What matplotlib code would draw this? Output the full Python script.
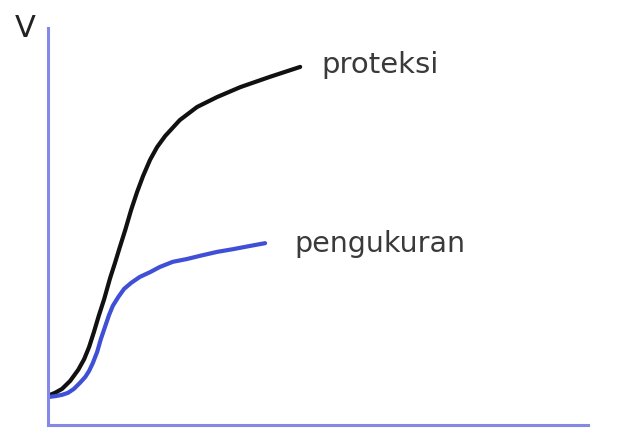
import matplotlib
matplotlib.use("Agg")
import matplotlib.pyplot as plt

# Curves in arbitrary units (x: 0-10, V: 0-10)
proteksi_x = [0.04, 0.13, 0.26, 0.41, 0.56, 0.67, 0.76, 0.85, 0.94, 1.04, 1.15, 1.24, 1.33,
              1.43, 1.54, 1.65, 1.76, 1.89, 2.02, 2.17, 2.44, 2.76, 3.13, 3.56, 4.11, 4.67]
proteksi_v = [0.76, 0.81, 0.91, 1.11, 1.39, 1.66, 1.96, 2.34, 2.75, 3.17, 3.70, 4.08, 4.48,
              4.91, 5.42, 5.87, 6.27, 6.68, 7.00, 7.28, 7.68, 8.01, 8.26, 8.51, 8.77, 9.02]

pengukuran_x = [0.04, 0.15, 0.26, 0.37, 0.48, 0.59, 0.69, 0.76, 0.83, 0.91, 0.98, 1.06, 1.13,
                1.20, 1.30, 1.41, 1.54, 1.70, 1.89, 2.07, 2.31, 2.57, 2.81, 3.13, 3.43, 3.74, 4.02]
pengukuran_v = [0.71, 0.73, 0.76, 0.81, 0.91, 1.06, 1.21, 1.36, 1.56, 1.84, 2.17, 2.49, 2.77,
                3.00, 3.22, 3.43, 3.58, 3.73, 3.85, 3.98, 4.11, 4.18, 4.26, 4.36, 4.43, 4.51, 4.58]

labels = ["proteksi", "pengukuran"]
y_label = "V"

W, H = 632, 436
fig = plt.figure(figsize=(W / 100, H / 100), dpi=100)
ax = fig.add_axes([48 / W, 11 / H, 540 / W, 397 / H])
ax.set_xlim(0, 10)
ax.set_ylim(0, 10)

axis_color = "#8589e6"
for side in ("top", "right"):
    ax.spines[side].set_visible(False)
for side in ("left", "bottom"):
    ax.spines[side].set_color(axis_color)
    ax.spines[side].set_linewidth(2.2)
ax.set_xticks([])
ax.set_yticks([])

ax.plot(proteksi_x, proteksi_v, color="#111111", lw=3.0,
        solid_capstyle="round", solid_joinstyle="round")
ax.plot(pengukuran_x, pengukuran_v, color="#3f50d6", lw=3.0,
        solid_capstyle="round", solid_joinstyle="round")

ax.text(proteksi_x[-1] + 0.40, proteksi_v[-1] - 0.15, labels[0], fontsize=21,
        color="#3a3a3a", ha="left", va="baseline")
ax.text(pengukuran_x[-1] + 0.55, pengukuran_v[-1] - 0.22, labels[1], fontsize=20.5,
        color="#3a3a3a", ha="left", va="baseline")

fig.text(15 / W, 1 - 37 / H, y_label, fontsize=22, color="#222222",
         ha="left", va="baseline")

fig.savefig("out.png", dpi=100, facecolor="white")
